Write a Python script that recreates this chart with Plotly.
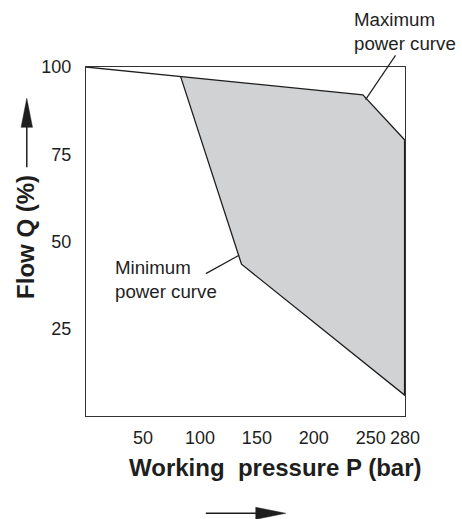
import plotly.graph_objects as go

# ---- data ----
max_P = [0, 243, 280]          # maximum power curve, pressure (bar)
max_Q = [100, 92, 79]          # maximum power curve, flow (%)
min_P = [83, 136.5, 280]       # minimum power curve, pressure (bar)
min_Q = [97.3, 43.5, 5.9]      # minimum power curve, flow (%)
x_ticks = [50, 100, 150, 200, 250, 280]
y_ticks = [25, 50, 75, 100]

# region between curves
region_P = min_P + max_P[:0:-1] + [min_P[0]]
region_Q = min_Q + max_Q[:0:-1] + [min_Q[0]]

FONT = "Liberation Sans, Arial, Helvetica, sans-serif"
INK = "#1e1e1e"

# plot box geometry (pixels)
L, R, T, B = 86, 405.5, 66.7, 415.7
W, H = R - L, B - T
def px(x):
    return (x - L) / W
def py(y):
    return (B - y) / H

fig = go.Figure()
fig.add_trace(go.Scatter(x=region_P, y=region_Q, mode="lines", fill="toself",
                         fillcolor="#d1d2d4", line=dict(width=0), hoverinfo="skip",
                         showlegend=False))
fig.add_trace(go.Scatter(x=max_P, y=max_Q, mode="lines",
                         line=dict(color=INK, width=1.3), showlegend=False))
fig.add_trace(go.Scatter(x=min_P, y=min_Q, mode="lines",
                         line=dict(color=INK, width=1.3), showlegend=False))
fig.add_trace(go.Scatter(x=[max_P[-1], min_P[-1]], y=[max_Q[-1], min_Q[-1]], mode="lines",
                         line=dict(color=INK, width=2.2), showlegend=False))

axis_common = dict(showline=True, mirror=True, linecolor="#333333", linewidth=1.3,
                   showgrid=False, zeroline=False, ticks="",
                   tickfont=dict(family=FONT, size=18, color=INK))

fig.update_xaxes(range=[0, 280], tickmode="array", tickvals=x_ticks,
                 ticktext=[str(v) for v in x_ticks], ticklabelstandoff=5, **axis_common)
fig.update_yaxes(range=[0, 100], tickmode="array", tickvals=y_ticks,
                 ticktext=[str(v) for v in y_ticks], ticklabelstandoff=10, **axis_common)

annotations = [
    dict(text="Maximum<br>power curve", x=px(352), y=py(31.5), xref="paper", yref="paper",
         xanchor="left", yanchor="middle", align="left", showarrow=False,
         font=dict(family=FONT, size=18.7, color=INK)),
    dict(text="Minimum<br>power curve", x=px(113), y=py(279), xref="paper", yref="paper",
         xanchor="left", yanchor="middle", align="left", showarrow=False,
         font=dict(family=FONT, size=18.7, color=INK)),
    dict(text="Working  pressure P (bar)", x=px(276), y=py(467), xref="paper", yref="paper",
         xanchor="center", yanchor="middle", showarrow=False,
         font=dict(family=FONT, size=24, color=INK, weight="bold")),
    dict(text="Flow Q (%)", x=px(26), y=py(236.5), xref="paper", yref="paper",
         xanchor="center", yanchor="middle", textangle=-90, showarrow=False,
         font=dict(family=FONT, size=24, color=INK, weight="bold")),
]

def line_shape(x0, y0, x1, y1, w=1.2):
    return dict(type="line", xref="paper", yref="paper", x0=px(x0), y0=py(y0),
                x1=px(x1), y1=py(y1), line=dict(color=INK, width=w))

def tri(points):
    d = "M " + " L ".join(f"{px(a)},{py(b)}" for a, b in points) + " Z"
    return dict(type="path", xref="paper", yref="paper", path=d,
                fillcolor=INK, line=dict(color=INK, width=0.5))

shapes = [
    line_shape(396, 55, 366, 99.3),           # max leader
    line_shape(239.3, 255, 206, 273.3),       # min leader
    line_shape(26.7, 167, 26.7, 122, 1.5),    # y arrow shaft
    tri([(26.7, 98), (21.0, 127), (32.4, 127)]),
    line_shape(206, 513, 260, 513, 1.5),      # x arrow shaft
    tri([(286, 513), (256, 507), (256, 519)]),
]

fig.update_layout(width=462, height=519, autosize=False,
                  margin=dict(l=L, r=462 - R, t=T, b=519 - B),
                  plot_bgcolor="white", paper_bgcolor="white",
                  annotations=annotations, shapes=shapes,
                  font=dict(family=FONT, color=INK))

fig.write_html("out.html", config={"displayModeBar": False},
               post_script="document.body.style.margin='0px';document.body.style.overflow='hidden';")
